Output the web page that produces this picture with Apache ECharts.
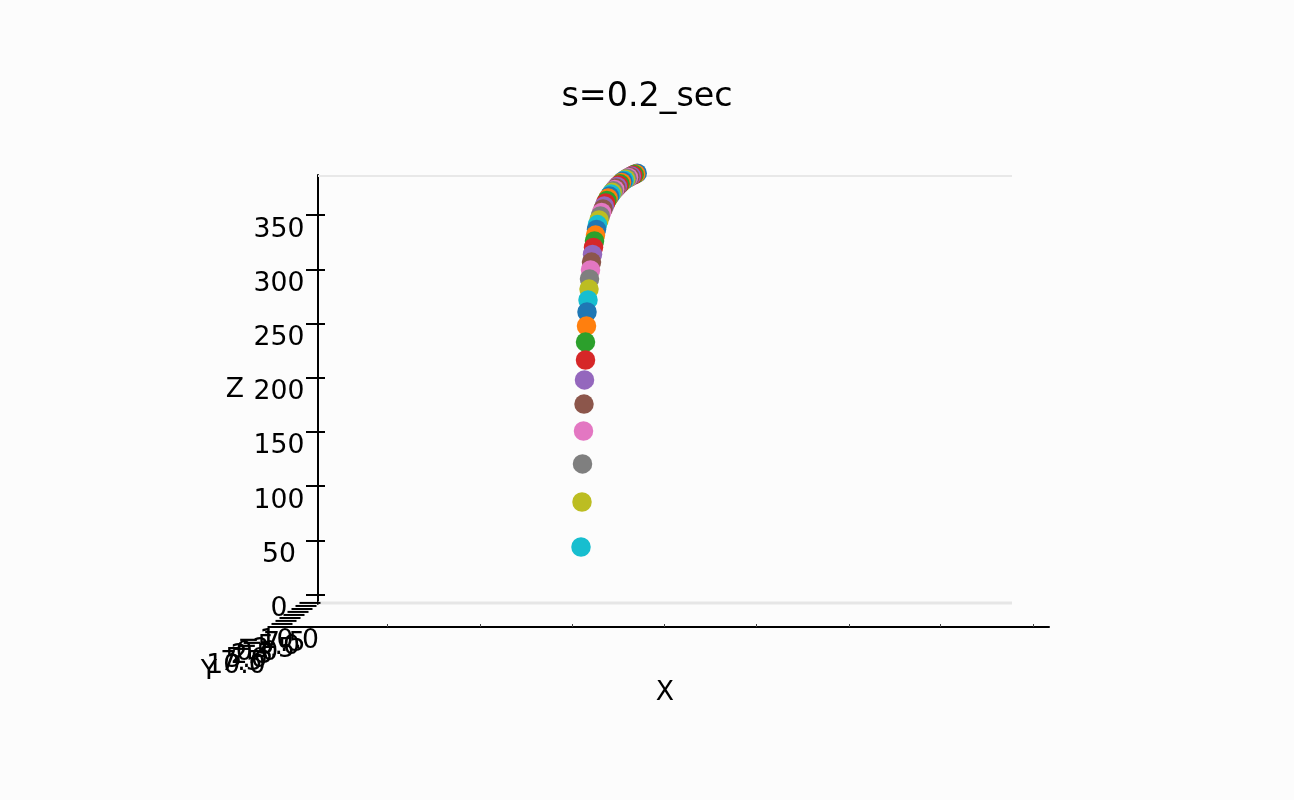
<!DOCTYPE html>
<html><head><meta charset="utf-8">
<style>html,body{margin:0;padding:0;background:#fcfcfc}#c{width:1294px;height:800px}</style>
<script src="https://cdn.jsdelivr.net/npm/echarts@6/dist/echarts.min.js"></script>
</head><body><div id="c"></div>
<script>
// Trajectory, listed from the lowest point upward (x in unlabelled axis units, z in axis units)
var pointX = [263,264,264.5,265.5,266,266.5,267.5,267.5,268.5,269,270,271,271.5,272.5,273.5,274.5,275.5,276.5,277.5,278.5,279.5,281,282.3,283.6,285,286.3,287.6,288.9,290.2,291.6,293,294.2,295.4,296.7,298,299.3,300.7,302.1,303.5,304.9,306.3,307.7,309.1,310.5,311.9,313.3,314.7,316.2,317.7,319.2];
var pointZ = [43.8,85.3,120.4,150.8,175.7,197.9,216.3,232.9,247.7,260.6,271.7,281.8,291.1,299.4,306.7,313.7,320.1,326.1,331.6,336.7,341.3,345.5,349.2,352.4,355.7,358.4,361.2,363.5,365.8,367.6,369.5,371,372.4,373.7,375,376.4,377.7,378.9,380.1,381.3,382.2,383.1,384,384.7,385.4,386.1,386.7,387.4,388,388.7];
var palette = ['#1f77b4','#ff7f0e','#2ca02c','#d62728','#9467bd','#8c564b','#e377c2','#7f7f7f','#bcbd22','#17becf'];
var zTicks = [0,50,100,150,200,250,300,350];
var xTicks = [69,162,254,346,438,531,622,715];
// Projected Y axis: tick positions and label positions in the same x/z plane
var yLabels = ['\u221210.0','\u22127.5','\u22125.0','\u22122.5','0.0','2.5','5.0','7.5','10.0'];
var yTickX = [-8,-12,-16,-20,-24,-28,-32,-36,-40];
var yTickZ = [-7.8,-10.6,-13.4,-16.1,-18.9,-21.7,-24.4,-27.2,-30];
var yLabelX = [-40,-45,-50.5,-55.5,-61,-66,-71.5,-76.5,-82];
var yLabelZ = [-42.9,-45.7,-48.4,-51.7,-54.3,-57.1,-60.4,-63.2,-66];
var panelTopEdge = [[0,386],[694,386]];
var panelBottomEdge = [[0,-7.8],[694,-7.8]];

var FONT = '"DejaVu Sans"';
var N = pointX.length;
var points = [];
for (var i = N - 1; i >= 0; i--) points.push([pointX[i], pointZ[i]]);
function zip(a, b){ return a.map(function(v,i){ return [v,b[i]]; }); }

var chart = echarts.init(document.getElementById('c'), null, {renderer:'canvas'});
function yAxisBase(){ return {type:'value', min:-8.8, max:387, position:'left', offset:-30, splitLine:{show:false}, axisLine:{show:false,onZero:false}, axisLabel:{show:false}, axisTick:{show:false}}; }
var y0 = yAxisBase();
y0.axisLine = {show:true, onZero:false, lineStyle:{color:'#000', width:2}};
y0.axisTick = {show:true, length:12, customValues:zTicks, lineStyle:{color:'#000', width:2}};
y0.axisLabel = {show:true, customValues:zTicks, margin:39, align:'center', verticalAlign:'top', padding:[1,0,0,0], fontFamily:FONT, fontSize:26.67, color:'#000', showMinLabel:true, showMaxLabel:true};
var y1 = yAxisBase();
y1.axisTick = {show:true, inside:true, length:7, customValues:zTicks, lineStyle:{color:'#000', width:2}};

function txt(s, l, t, size){ return {text:s, left:l, top:t, padding:0, textAlign:'center', textStyle:{fontFamily:FONT, fontSize:size, fontWeight:'normal', color:'#000'}}; }

chart.setOption({
  animation:false,
  backgroundColor:'#fcfcfc',
  title:[ txt('s=0.2_sec',647,81,33.33), txt('X',665,680,26.67), txt('Z',235,377,26.67), txt('Y',209,659,26.67) ],
  grid:{left:288, top:175, width:761, height:429, containLabel:false},
  xAxis:{type:'value', min:-30, max:731, offset:23, position:'bottom', splitLine:{show:false},
    axisLine:{show:true, onZero:false, lineStyle:{color:'#000', width:2}},
    axisLabel:{show:false},
    axisTick:{show:true, inside:true, length:3, customValues:xTicks, lineStyle:{color:'#444', width:1}}},
  yAxis:[y0,y1],
  series:[
    {type:'line', data:panelTopEdge, symbol:'none', clip:false, silent:true, z:1, lineStyle:{color:'#e8e8e8', width:2}},
    {type:'line', data:panelBottomEdge, symbol:'none', clip:false, silent:true, z:1, lineStyle:{color:'#e6e6e6', width:3}},
    {type:'scatter', data:zip(yTickX,yTickZ), symbol:'rect', symbolSize:[21,2], clip:false, silent:true, z:3, itemStyle:{color:'#000', opacity:1}},
    {type:'scatter', data:zip(yLabelX,yLabelZ).map(function(p,i){ return {value:p, name:yLabels[i]}; }), symbolSize:1, clip:false, silent:true, z:3,
      itemStyle:{color:'rgba(0,0,0,0)', opacity:1},
      label:{show:true, position:'inside', formatter:'{b}', fontFamily:FONT, fontSize:26.67, color:'#000', align:'center', verticalAlign:'middle', textBorderWidth:0, opacity:1}},
    {type:'scatter', data:points, symbol:'circle', symbolSize:19.5, clip:false, silent:true, z:5,
      itemStyle:{opacity:1, color:function(p){ return palette[p.dataIndex % 10]; }}}
  ]
});
</script></body></html>
